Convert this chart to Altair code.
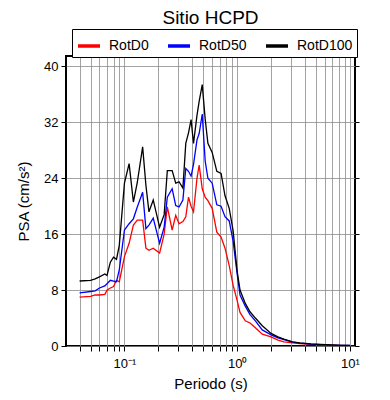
import altair as alt
import pandas as pd

periods = [0.04, 0.05, 0.055, 0.06, 0.067, 0.07, 0.075, 0.08, 0.085, 0.09,
           0.1, 0.11, 0.12, 0.13, 0.145, 0.155, 0.165, 0.18, 0.205, 0.225,
           0.24, 0.265, 0.285, 0.305, 0.33, 0.35, 0.37, 0.39, 0.41, 0.44,
           0.46, 0.49, 0.52, 0.55, 0.6, 0.66, 0.72, 0.78, 0.85, 0.92,
           1.0, 1.06, 1.18, 1.3, 1.45, 1.67, 2.0, 2.3, 2.6, 3.1,
           3.6, 4.5, 5.5, 6.8, 8.3, 10]

rotd0 = [7.0, 7.1, 7.3, 7.3, 7.4, 8.0, 8.3, 8.5, 9.4, 9.2,
         12.8, 14.7, 17.3, 18.0, 18.0, 14.0, 13.7, 14.0, 13.3, 16.0,
         19.9, 16.6, 18.7, 17.5, 17.8, 18.5, 21.3, 20.0, 19.2, 24.0,
         25.9, 22.5, 21.3, 20.8, 19.7, 16.3, 15.6, 14.0, 11.5, 8.7,
         6.5, 4.8, 3.6, 3.3, 2.6, 1.7, 1.3, 0.85, 0.6, 0.45,
         0.35, 0.24, 0.18, 0.12, 0.08, 0.06]

rotd50 = [7.6, 7.8, 7.9, 8.3, 8.6, 8.9, 9.4, 9.3, 9.2, 10.9,
          16.6, 17.5, 18.2, 19.9, 22.0, 16.8, 17.3, 18.3, 14.7, 17.0,
          21.3, 22.5, 20.1, 19.9, 20.9, 25.4, 25.0, 24.3, 26.0, 29.5,
          30.4, 33.2, 26.5, 24.0, 23.3, 20.2, 20.0, 18.5, 17.9, 15.0,
          10.3, 7.3, 5.7, 4.5, 3.6, 2.3, 1.6, 1.15, 0.9, 0.55,
          0.4, 0.27, 0.2, 0.13, 0.09, 0.07]

rotd100 = [9.3, 9.4, 9.6, 9.9, 10.3, 10.1, 12.0, 12.7, 12.4, 14.4,
           23.3, 26.1, 20.6, 23.4, 28.5, 23.0, 19.2, 20.9, 17.0, 18.8,
           25.1, 25.1, 23.3, 23.5, 22.6, 29.0, 30.5, 32.4, 29.0, 33.0,
           35.0, 37.4, 32.5, 29.0, 27.7, 25.0, 24.7, 21.5, 19.7, 16.5,
           10.7, 8.0, 6.1, 4.9, 4.0, 2.9, 1.8, 1.3, 1.0, 0.6,
           0.45, 0.3, 0.22, 0.15, 0.1, 0.08]

series_names = ["RotD0", "RotD50", "RotD100"]
series_colors = ["#ff0000", "#0000ff", "#000000"]
y_ticks = [0, 8, 16, 24, 32, 40]
x_grid = [0.04, 0.05, 0.06, 0.07, 0.08, 0.09,
          0.1, 0.2, 0.3, 0.4, 0.5, 0.6, 0.7, 0.8, 0.9,
          1, 2, 3, 4, 5, 6, 7, 8, 9, 10]

rows = []
for name, vals in zip(series_names, [rotd0, rotd50, rotd100]):
    for p, v in zip(periods, vals):
        rows.append({"Periodo": p, "PSA": v, "Serie": name})
df = pd.DataFrame(rows)

FONT = "Liberation Sans"
x_scale = alt.Scale(type="log", domain=[0.0303, 11.1], nice=False)
y_scale = alt.Scale(domain=[0, 41.5], nice=False, zero=False)

label_expr = ("datum.value == 0.1 ? '10⁻¹' : datum.value == 1 ? '10⁰' : "
              "datum.value == 10 ? '10¹' : ''")

lines = alt.Chart(df).mark_line(strokeWidth=1.3, clip=True).encode(
    x=alt.X("Periodo:Q", scale=x_scale,
            axis=alt.Axis(values=x_grid, labelExpr=label_expr, title="Periodo (s)",
                          grid=True, gridColor="#8c8c8c", gridWidth=0.8,
                          domain=False, tickSize=5, tickColor="black",
                          labelFontSize=13, titleFontSize=15, labelPadding=6,
                          titlePadding=6, labelFont=FONT, titleFont=FONT,
                          labelColor="black", titleColor="black",
                          titleFontWeight="normal", orient="bottom")),
    y=alt.Y("PSA:Q", scale=y_scale,
            axis=alt.Axis(values=y_ticks, title="PSA (cm/s²)", grid=True,
                          gridColor="#8c8c8c", gridWidth=0.8, domain=False,
                          tickSize=5, tickColor="black", labelFontSize=13,
                          titleFontSize=15, labelFont=FONT, titleFont=FONT,
                          labelColor="black", titleColor="black",
                          titleFontWeight="normal", labelPadding=3,
                          titlePadding=12, orient="left")),
    color=alt.Color("Serie:N",
                    scale=alt.Scale(domain=series_names, range=series_colors),
                    legend=alt.Legend(title=None, orient="none", legendX=6,
                                      legendY=-27, direction="horizontal",
                                      strokeColor="black", fillColor="white",
                                      padding=4, symbolType="stroke",
                                      symbolSize=484, symbolStrokeWidth=3.5,
                                      labelFontSize=14, labelFont=FONT,
                                      labelColor="black", columnPadding=12,
                                      labelOffset=7)),
    order=alt.Order("Periodo:Q"),
)

frame = alt.Chart(df).mark_point(opacity=0).encode(
    x=alt.X("Periodo:Q", scale=x_scale,
            axis=alt.Axis(values=x_grid, labels=False, title=None, grid=False,
                          domain=False, tickSize=4, tickColor="black",
                          orient="top")),
    y=alt.Y("PSA:Q", scale=y_scale,
            axis=alt.Axis(values=y_ticks, labels=False, title=None, grid=False,
                          domain=False, tickSize=4, tickColor="black",
                          orient="right")),
)

chart = alt.layer(lines, frame).resolve_axis(x="independent", y="independent").properties(
    width=289, height=290,
    title=alt.TitleParams("Sitio HCPD", font=FONT, fontSize=19,
                          fontWeight="normal", color="black", anchor="middle",
                          offset=1),
    autosize=alt.AutoSizeParams(type="none"),
    padding={"left": 58, "top": 48, "right": 27, "bottom": 46},
).configure_view(stroke="black", strokeWidth=2)

chart.save("out.html", embed_options={"renderer": "svg", "actions": False})
